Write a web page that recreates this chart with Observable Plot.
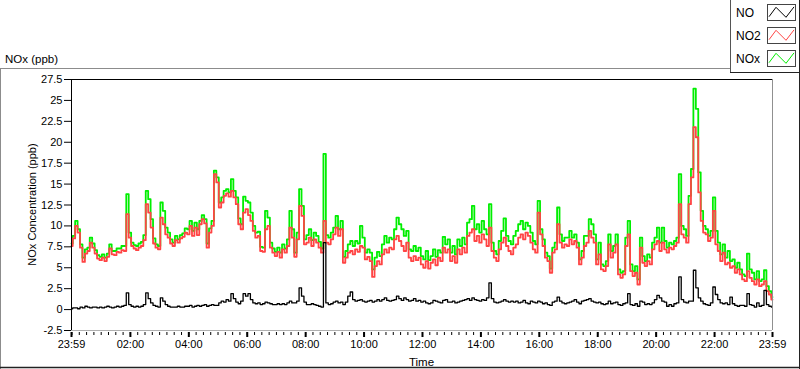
<!DOCTYPE html>
<html><head><meta charset="utf-8">
<script src="https://cdn.jsdelivr.net/npm/d3@7"></script>
<script src="https://cdn.jsdelivr.net/npm/@observablehq/plot@0.6"></script>
<style>
html,body{margin:0;padding:0;background:#fff;}
#chart{position:relative;width:800px;height:369px;overflow:hidden;}
</style></head><body><div id="chart"></div>
<script>
// ---- data (5-minute samples, 23:59 -> 23:59) ----
const seriesNames = ["NO", "NO2", "NOx"];
const seriesColors = ["#000000", "#ff4444", "#00ee00"];
const startTime = "2020-01-01T23:59:00Z";
const endTime = "2020-01-02T23:59:00Z";
const stepMinutes = 5;

const NO2 = [
  7.6, 8.5, 10.0, 9.2, 7.4, 5.7, 6.7, 7.0, 8.0, 7.4, 6.7, 6.1,
  5.9, 6.2, 5.8, 6.3, 7.3, 6.6, 6.5, 6.9, 6.8, 7.1, 7.0, 11.4,
  8.6, 7.6, 7.3, 7.1, 7.4, 7.6, 8.3, 12.6, 11.6, 9.8, 7.9, 7.4,
  7.2, 11.0, 10.2, 9.0, 8.6, 7.9, 7.6, 8.3, 8.0, 8.5, 8.7, 9.2,
  9.0, 10.0, 8.8, 9.8, 8.9, 10.2, 10.8, 10.3, 7.4, 9.2, 10.0, 16.2,
  15.2, 12.2, 12.8, 13.6, 13.9, 13.5, 14.2, 13.4, 12.6, 10.2, 9.6, 11.6,
  12.0, 11.3, 10.6, 9.4, 8.6, 8.8, 7.0, 6.9, 9.6, 10.0, 7.4, 6.8,
  6.4, 6.9, 6.2, 7.2, 6.8, 7.6, 9.8, 8.6, 6.3, 8.4, 12.4, 11.2,
  7.8, 8.0, 8.6, 7.6, 8.4, 8.0, 7.4, 6.8, 10.6, 8.0, 7.8, 8.4,
  9.0, 9.8, 8.8, 9.6, 5.6, 6.2, 6.8, 7.0, 6.6, 7.2, 6.9, 7.6,
  7.4, 6.0, 6.3, 5.8, 3.9, 5.2, 5.8, 5.4, 6.6, 7.2, 6.8, 7.4,
  7.2, 8.4, 8.8, 8.2, 7.6, 7.0, 8.0, 6.2, 5.8, 6.4, 5.9, 6.2,
  5.4, 5.0, 5.8, 4.9, 5.6, 6.0, 5.3, 6.2, 5.8, 7.4, 6.8, 7.2,
  5.8, 6.4, 5.6, 7.2, 6.6, 7.4, 6.8, 8.8, 9.2, 9.6, 8.2, 8.8,
  8.0, 9.0, 8.4, 7.6, 9.8, 7.0, 6.2, 5.8, 7.2, 8.0, 8.6, 7.6,
  7.0, 6.6, 7.4, 7.8, 8.6, 9.0, 8.4, 9.2, 8.8, 8.0, 7.2, 6.8,
  11.6, 9.0, 7.6, 6.2, 5.8, 4.4, 6.8, 7.2, 10.2, 8.0, 7.4, 7.8,
  7.6, 8.4, 7.8, 8.2, 7.4, 5.4, 6.2, 7.6, 8.0, 9.4, 8.6, 8.0,
  5.4, 6.6, 4.8, 4.6, 5.2, 7.8, 6.2, 6.8, 7.8, 4.2, 3.8, 4.2,
  7.6, 9.0, 4.6, 4.0, 4.4, 3.0, 7.4, 5.6, 5.2, 5.8, 5.4, 7.2,
  7.8, 8.2, 7.0, 8.0, 7.2, 6.8, 7.4, 7.2, 7.6, 8.0, 12.6, 9.0,
  8.6, 8.0, 12.6, 15.8, 21.8, 20.6, 14.0, 10.6, 9.2, 9.0, 8.2, 8.6,
  11.8, 7.8, 7.0, 5.8, 6.8, 5.4, 5.6, 5.0, 5.2, 4.4, 4.8, 4.2,
  3.6, 3.4, 4.6, 3.8, 3.4, 3.0, 3.6, 2.8, 3.0, 3.4, 2.2, 1.8, 1.2
];

const NOx = [
  7.9, 8.8, 10.6, 9.6, 7.8, 6.2, 7.2, 7.4, 8.6, 7.9, 7.1, 6.5,
  6.3, 6.6, 6.2, 6.7, 7.8, 7.0, 7.0, 7.3, 7.3, 7.6, 7.6, 13.8,
  9.2, 8.0, 7.7, 7.6, 7.9, 8.1, 8.9, 14.2, 13.2, 10.8, 8.5, 7.8,
  7.6, 12.8, 11.8, 9.8, 9.2, 8.4, 8.0, 8.8, 8.4, 8.9, 9.1, 9.7,
  9.6, 10.6, 9.4, 10.4, 9.6, 10.6, 11.3, 10.8, 7.9, 9.7, 10.6, 16.6,
  15.8, 12.8, 13.4, 14.2, 14.4, 14.0, 15.6, 14.2, 13.4, 10.9, 10.2, 13.5,
  13.0, 12.8, 11.6, 10.0, 9.2, 9.3, 7.5, 7.4, 11.8, 11.0, 8.0, 7.3,
  6.9, 7.4, 6.8, 7.8, 7.3, 8.4, 11.8, 9.6, 6.8, 9.2, 14.4, 12.4,
  8.4, 8.9, 9.6, 8.3, 9.2, 8.8, 8.1, 7.3, 18.6, 8.9, 8.6, 9.2,
  9.8, 11.2, 9.6, 10.6, 6.3, 7.0, 7.8, 8.2, 7.6, 8.2, 7.9, 10.0,
  8.6, 6.8, 7.2, 6.8, 4.8, 6.2, 6.9, 6.4, 7.8, 8.8, 8.0, 8.6,
  8.4, 9.6, 11.0, 10.2, 9.6, 8.8, 9.4, 7.2, 7.0, 7.6, 7.0, 7.4,
  6.4, 6.0, 7.0, 5.9, 6.4, 7.2, 6.3, 7.1, 6.8, 8.7, 7.8, 8.4,
  6.8, 7.6, 6.6, 8.4, 7.6, 8.6, 7.8, 10.4, 10.8, 12.4, 9.6, 10.2,
  9.2, 10.6, 9.6, 9.0, 12.6, 8.0, 7.0, 6.6, 8.2, 9.4, 10.9, 8.8,
  8.2, 7.8, 8.8, 9.4, 10.2, 10.6, 9.6, 10.4, 10.0, 9.2, 8.2, 7.8,
  13.0, 9.6, 8.4, 6.8, 6.4, 4.9, 7.4, 8.0, 12.2, 9.0, 8.2, 8.6,
  8.6, 9.4, 8.6, 9.0, 8.0, 6.0, 7.0, 8.8, 8.8, 10.8, 10.2, 9.0,
  6.0, 8.0, 5.4, 5.2, 5.8, 9.0, 7.0, 7.6, 9.0, 4.8, 4.4, 4.6,
  8.6, 10.6, 5.4, 4.6, 5.2, 3.6, 8.6, 6.4, 5.8, 6.6, 6.2, 8.0,
  8.6, 9.8, 8.0, 9.8, 8.2, 7.4, 8.0, 7.8, 8.2, 8.6, 16.2, 10.0,
  9.6, 8.8, 13.6, 16.8, 26.4, 24.0, 16.4, 11.8, 10.0, 9.6, 8.8, 9.4,
  13.4, 9.4, 8.0, 6.6, 7.8, 6.2, 7.0, 5.8, 6.0, 5.0, 5.6, 4.8,
  4.2, 4.0, 6.7, 4.8, 4.4, 3.6, 4.6, 3.4, 3.6, 4.7, 2.8, 2.2, 1.5
];

const NO = [
  0.1, 0.2, 0.2, 0.1, 0.3, 0.2, 0.4, 0.3, 0.2, 0.3, 0.3, 0.2,
  0.3, 0.2, 0.3, 0.4, 0.3, 0.2, 0.3, 0.4, 0.3, 0.4, 0.5, 2.0,
  0.6, 0.4, 0.3, 0.4, 0.3, 0.4, 0.6, 2.0, 1.3, 0.8, 0.5, 0.4,
  0.3, 1.4, 1.0, 0.6, 0.4, 0.3, 0.3, 0.3, 0.4, 0.3, 0.3, 0.4,
  0.4, 0.5, 0.3, 0.4, 0.5, 0.4, 0.5, 0.6, 0.4, 0.5, 0.6, 0.5,
  0.5, 0.8, 1.0, 0.9, 1.2, 1.0, 1.9, 1.3, 0.9, 0.7, 1.0, 1.9,
  1.6, 1.9, 1.2, 0.8, 0.7, 0.8, 0.6, 0.7, 0.9, 0.8, 0.7, 0.6,
  0.6, 0.7, 0.6, 0.7, 0.6, 0.8, 1.0, 0.8, 0.8, 1.0, 2.6, 1.6,
  0.9, 0.6, 0.6, 0.7, 0.6, 0.5, 0.4, 0.3, 8.0, 0.8, 0.6, 0.7,
  0.9, 1.0, 0.8, 0.9, 0.6, 0.9, 1.6, 2.1, 1.2, 1.0, 1.1, 1.2,
  1.0, 0.9, 1.0, 1.1, 0.9, 1.0, 1.2, 1.0, 1.2, 1.4, 1.1, 1.0,
  1.1, 1.2, 1.6, 1.3, 1.1, 1.4, 1.2, 1.0, 1.1, 1.3, 1.0, 1.1,
  0.9, 1.0, 0.8, 0.7, 0.8, 1.1, 1.0, 0.9, 0.8, 1.1, 1.2, 0.9,
  0.9, 1.0, 0.8, 0.9, 1.0, 1.1, 1.2, 1.3, 1.1, 1.4, 1.2, 1.1,
  1.0, 1.2, 1.1, 1.4, 3.2, 1.3, 0.9, 0.8, 0.9, 1.0, 1.2, 1.0,
  0.9, 1.0, 0.9, 1.0, 0.8, 0.9, 1.1, 0.8, 0.7, 1.0, 0.9, 0.8,
  1.0, 0.9, 0.7, 0.8, 0.6, 0.5, 0.9, 1.0, 1.5, 1.0, 0.8, 0.7,
  0.8, 0.9, 1.0, 1.2, 0.9, 0.7, 1.0, 1.1, 1.2, 1.3, 1.0, 0.9,
  0.8, 0.9, 0.7, 0.6, 0.7, 1.0, 0.7, 0.8, 0.9, 0.6, 0.5, 0.7,
  0.8, 1.9, 0.6, 0.5, 0.7, 0.4, 1.0, 0.9, 0.6, 0.7, 0.6, 0.8,
  1.2, 1.7, 1.4, 1.0, 0.9, 0.4, 0.6, 0.4, 0.7, 0.8, 3.9, 1.2,
  0.9, 0.8, 1.0, 1.0, 4.7, 2.6, 1.4, 1.0, 0.7, 0.6, 0.5, 0.8,
  2.7, 1.8, 1.2, 0.8, 0.7, 0.8, 0.6, 1.5, 0.7, 0.5, 0.4, 0.5,
  0.5, 0.4, 1.9, 0.6, 0.5, 0.3, 0.8, 0.4, 0.5, 2.3, 0.6, 0.4, 0.3
];

const yTicks = [-2.5, 0, 2.5, 5, 7.5, 10, 12.5, 15, 17.5, 20, 22.5, 25, 27.5];
const xTickTimes = ["2020-01-01T23:59:00Z","2020-01-02T02:00:00Z","2020-01-02T04:00:00Z","2020-01-02T06:00:00Z",
  "2020-01-02T08:00:00Z","2020-01-02T10:00:00Z","2020-01-02T12:00:00Z","2020-01-02T14:00:00Z",
  "2020-01-02T16:00:00Z","2020-01-02T18:00:00Z","2020-01-02T20:00:00Z","2020-01-02T22:00:00Z","2020-01-02T23:59:00Z"];
const xTickLabels = ["23:59","02:00","04:00","06:00","08:00","10:00","12:00","14:00","16:00","18:00","20:00","22:00","23:59"];
const yTitle = "NOx Concentration (ppb)";
const xTitle = "Time";
const chartTitle = "NOx (ppb)";

// ---- build ----
const t0 = new Date(startTime);
const t1 = new Date(endTime);
const rows = NO.map((v, i) => ({t: new Date(+t0 + i * stepMinutes * 60000), NO: v, NO2: NO2[i], NOx: NOx[i]}));
const majorTimes = xTickTimes.map(s => new Date(s));
const labelOf = new Map(majorTimes.map((d, i) => [+d, xTickLabels[i]]));
const minorTimes = d3.utcMinute.every(15).range(new Date("2020-01-02T00:00:00Z"), t1);
const font = "'Liberation Sans', Arial, sans-serif";

const svg = Plot.plot({
  width: 800, height: 369,
  marginLeft: 71, marginRight: 28, marginTop: 79, marginBottom: 39,
  style: {fontFamily: font, fontSize: "11px", color: "#000", background: "#fff", overflow: "visible"},
  x: {type: "utc", domain: [t0, t1]},
  y: {domain: [-2.5, 27.5]},
  marks: [
    Plot.lineY(rows, {x: "t", y: "NOx", stroke: seriesColors[2], strokeWidth: 1.8, curve: "step"}),
    Plot.lineY(rows, {x: "t", y: "NO2", stroke: seriesColors[1], strokeWidth: 1.8, curve: "step"}),
    Plot.lineY(rows, {x: "t", y: "NO", stroke: seriesColors[0], strokeWidth: 1.3, curve: "step"}),
    Plot.ruleY([27.5], {stroke: "#000"}),
    Plot.ruleY([-2.5], {stroke: "#b0b0b0"}),
    Plot.ruleX([t0], {stroke: "#000"}),
    Plot.ruleX([t1], {stroke: "#909090"}),
    Plot.axisY(yTicks, {tickSize: 7, tickPadding: 2, tickFormat: d => String(d), label: null}),
    Plot.axisX(majorTimes, {tickSize: 5, strokeWidth: 2, tickPadding: 3, dy: 2, tickFormat: d => labelOf.get(+d), label: null}),
    Plot.axisX(minorTimes, {tickSize: 3, dy: 2, fill: "none", label: null})
  ]
});
document.getElementById("chart").appendChild(svg);

// ---- decorations (frame, titles, legend) ----
const s = d3.select(svg);
const g = s.append("g").attr("fill", "none");
g.append("line").attr("x1", 0).attr("x2", 730).attr("y1", 68.5).attr("y2", 68.5).attr("stroke", "#8c8c8c");
g.append("line").attr("x1", 0.5).attr("x2", 0.5).attr("y1", 68).attr("y2", 369).attr("stroke", "#8c8c8c");
g.append("line").attr("x1", 0).attr("x2", 800).attr("y1", 367.5).attr("y2", 367.5).attr("stroke", "#222").attr("stroke-width", 1.5);
g.append("line").attr("x1", 799.5).attr("x2", 799.5).attr("y1", 0).attr("y2", 369).attr("stroke", "#222");
g.append("line").attr("x1", 730.5).attr("x2", 730.5).attr("y1", 0).attr("y2", 72.5).attr("stroke", "#555");
g.append("line").attr("x1", 730).attr("x2", 800).attr("y1", 72.5).attr("y2", 72.5).attr("stroke", "#222");

const txt = s.append("g").attr("fill", "#000").attr("text-anchor", "start").style("font-family", font);
txt.append("text").attr("x", 5).attr("y", 62.5).attr("text-anchor", "start").style("font-size", "11.5px").text(chartTitle);
txt.append("text").attr("x", 421.5).attr("y", 365.5).attr("text-anchor", "middle").style("font-size", "11.5px").text(xTitle);
txt.append("text").attr("transform", "translate(36,204.5) rotate(-90)").attr("text-anchor", "middle").style("font-size", "11px").text(yTitle);

const legendOrder = [0, 1, 2];
const legendY = [4.5, 27.5, 50.5];
legendOrder.forEach((k, j) => {
  const y0 = legendY[j];
  txt.append("text").attr("x", 736).attr("y", y0 + 12.5).attr("text-anchor", "start").style("font-size", "12px").text(seriesNames[k]);
  const box = s.append("g").attr("transform", `translate(767.5,${y0})`);
  box.append("rect").attr("width", 28).attr("height", 16).attr("fill", "#fff").attr("stroke", "#444");
  box.append("polyline").attr("points", "1.5,12.2 8.5,2.8 18.5,12.8 26.5,2.4").attr("fill", "none").attr("stroke", seriesColors[k]).attr("stroke-width", 1);
});
</script></body></html>
